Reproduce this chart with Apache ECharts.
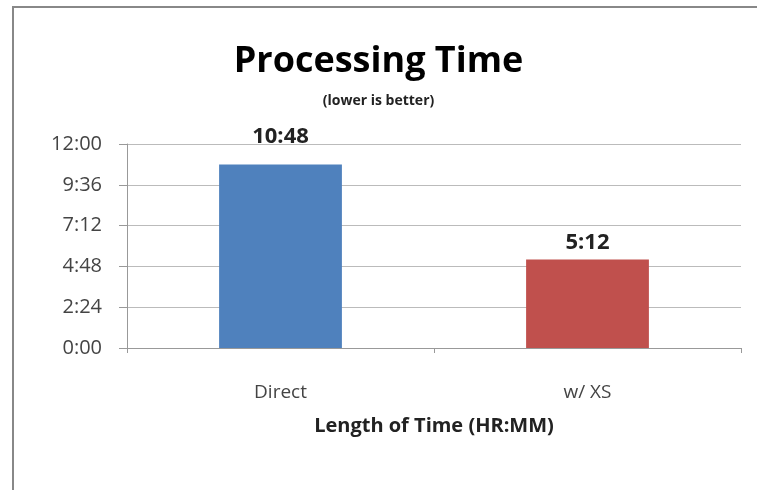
<!DOCTYPE html>
<html><head><meta charset="utf-8">
<script src="https://cdn.jsdelivr.net/npm/echarts@6/dist/echarts.min.js"></script>
<style>html,body{margin:0;padding:0;background:#fff;overflow:hidden}#c{width:757px;height:490px}</style>
</head><body><div id="c"></div>
<script>
const categories = ['Direct', 'w/ XS'];
const minutesValues = [648, 312];
const barColors = ['#4f81bd', '#c0504d'];
const yTickStep = 144;
const yMax = 720;

function hm(v){ const h=Math.floor(v/60), m=Math.round(v%60); return h+':' + (m<10?'0':'') + m; }

const labelGaps = [17, 6];

const chart = echarts.init(document.getElementById('c'));
chart.setOption({
  backgroundColor:'#fff',
  animation:false,
  title:{
    text:'Processing Time',
    subtext:'(lower is better)',
    left:'center', top:39, itemGap:14,
    textStyle:{fontFamily:'Open Sans', fontWeight:'bold', fontSize:36, color:'#000'},
    subtextStyle:{fontFamily:'Open Sans', fontWeight:'bold', fontSize:14, color:'#222'}
  },
  grid:{left:127, right:16, top:144, bottom:142},
  xAxis:{
    type:'category', data:categories,
    name:'Length of Time (HR:MM)', nameLocation:'middle', nameGap:68,
    nameTextStyle:{fontFamily:'Open Sans', fontWeight:'bold', fontSize:20, color:'#222'},
    axisLine:{lineStyle:{color:'#999'}},
    axisTick:{show:true, length:5, alignWithLabel:false, lineStyle:{color:'#999'}},
    axisLabel:{fontFamily:'Open Sans', fontSize:19, color:'#444', margin:35}
  },
  yAxis:{
    type:'value', min:0, max:yMax, interval:yTickStep,
    axisLine:{show:true, lineStyle:{color:'#999'}},
    axisTick:{show:true, length:8, lineStyle:{color:'#999'}},
    splitLine:{lineStyle:{color:'#bbb'}},
    axisLabel:{fontFamily:'Open Sans', fontSize:20, color:'#444', margin:25, formatter:hm}
  },
  series:[{
    type:'bar', barWidth:'40%',
    data: minutesValues.map((v,i)=>({value:v, itemStyle:{color:barColors[i]}, label:{distance:labelGaps[i]}})),
    label:{show:true, position:'top', fontFamily:'Open Sans', fontWeight:'bold', fontSize:22, color:'#222', formatter:p=>hm(p.value)}
  }],
  graphic:[
    {type:'rect', shape:{x:12, y:7, width:2, height:483}, style:{fill:'#888'}},
    {type:'rect', shape:{x:12, y:6, width:745, height:2}, style:{fill:'#888'}}
  ]
});
</script></body></html>
